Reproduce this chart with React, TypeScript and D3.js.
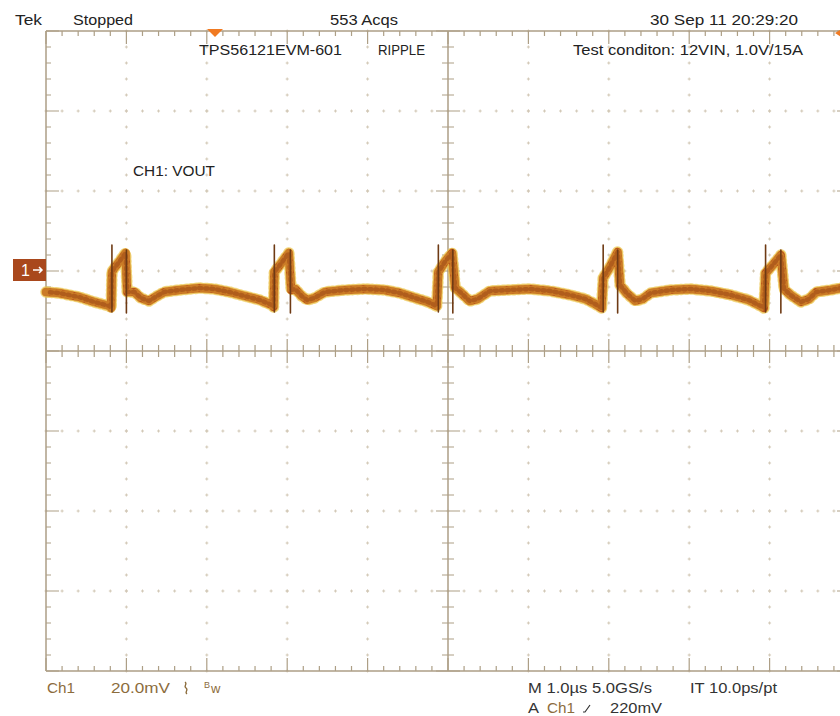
import React from "react";
import * as d3 from "d3";

// ---- Data (time in µs relative to screen centre, voltage in mV relative to CH1 marker) ----
const traceTime = [
  -5.0, -4.84, -4.59, -4.4, -4.21, -4.19, -4.18, -4.15, -4.09, -4.01,
  -3.99, -3.9, -3.82, -3.72, -3.62, -3.53, -3.34, -3.09, -2.91, -2.72,
  -2.53, -2.34, -2.19, -2.17, -2.16, -2.09, -1.98, -1.95, -1.9, -1.82,
  -1.75, -1.66, -1.53, -1.28, -1.03, -0.79, -0.6, -0.41, -0.25, -0.14,
  -0.12, -0.04, 0.05, 0.09, 0.15, 0.27, 0.37, 0.52, 0.77, 1.02,
  1.27, 1.52, 1.71, 1.83, 1.91, 1.93, 2.02, 2.11, 2.14, 2.22,
  2.33, 2.42, 2.52, 2.77, 3.02, 3.27, 3.52, 3.74, 3.89, 3.93,
  3.95, 4.04, 4.14, 4.18, 4.26, 4.39, 4.49, 4.58, 4.76, 4.89, 4.99,
];
const traceMv = [
  -5.25, -5.5, -6.5, -7.75, -8.75, -9.25, -0.25, 0.75, 2.25, 4.5,
  -5.25, -5.25, -6.75, -7.5, -6.25, -5.25, -4.75, -4.25, -4.5, -5.25,
  -6.25, -7.25, -8.5, -9.0, -0.25, 1.5, 4.5, -4.75, -4.5, -6.25,
  -7.25, -6.75, -5.25, -4.75, -4.5, -4.75, -5.5, -6.75, -7.75, -8.75,
  -0.25, 2.25, 4.5, -4.25, -5.25, -7.5, -7.0, -5.0, -4.75, -4.5,
  -5.0, -6.0, -7.0, -8.25, -9.25, -1.75, 1.25, 4.75, -3.5, -5.5,
  -7.5, -7.0, -5.5, -4.75, -4.5, -5.0, -6.0, -7.25, -8.75, -9.25,
  -0.5, 1.5, 4.0, -4.5, -6.0, -7.75, -7.0, -5.25, -4.75, -4.25, -4.25,
];
const riseTimes = [-4.18, -2.16, -0.12, 1.93, 3.95];
const riseTopMv = 6.5;
const riseBottomMv = -10.25;
const fallTimes = [-4.0, -1.96, 0.06, 2.11, 4.14];
const fallTopMv = 5.25;
const fallBottomMv = -10.5;

const timeDomain = [-5, 5]; // 1.0 µs/div, 10 div
const mvDomain = [-100, 60]; // 20 mV/div, 8 div, CH1 marker at 0
const majorTimes = d3.range(-5, 5.001, 1);
const majorMv = d3.range(-100, 60.001, 20);
const minorTimes = d3.range(-5, 5.001, 0.2);
const minorMv = d3.range(-100, 60.001, 4);

const W = 840;
const H = 716;
const GRID = "#ad9f86";
const DOT = "#d2c8b6";
const BROWN_TXT = "#8c6c3c";
const DARK_TXT = "#222";
const FONT = "'Liberation Sans', Arial, Helvetica, sans-serif";

export default function App() {
  const x = d3.scaleLinear().domain(timeDomain).range([46, 850]);
  const y = d3.scaleLinear().domain(mvDomain).range([671, 31]);
  const x0 = x(timeDomain[0]);
  const x1 = x(timeDomain[1]);
  const yTop = y(mvDomain[1]);
  const yBot = y(mvDomain[0]);
  const xc = x(0);
  const yc = y(-20);

  const pts: [number, number][] = traceTime.map((t, i) => [t, traceMv[i]]);
  const line = d3
    .line<[number, number]>()
    .x((d) => x(d[0]))
    .y((d) => y(d[1]))
    .curve(d3.curveLinear);
  const path = line(pts) || "";

  const isMajorT = (t: number) => Math.abs(t - Math.round(t)) < 1e-6;
  const isMajorV = (v: number) => Math.abs(v / 20 - Math.round(v / 20)) < 1e-6;

  const dotPaths: string[] = [];
  majorTimes.forEach((t, i) => {
    if (i === 0 || i === majorTimes.length - 1 || Math.abs(t) < 1e-6) return;
    minorMv.forEach((v) => {
      const px = x(t);
      const py = y(v);
      dotPaths.push(`M${px - 1.5},${py}h3M${px},${py - 1.5}v3`);
    });
  });
  majorMv.forEach((v, i) => {
    if (i === 0 || i === majorMv.length - 1 || Math.abs(v + 20) < 1e-6) return;
    minorTimes.forEach((t) => {
      const px = x(t);
      const py = y(v);
      dotPaths.push(`M${px - 1.5},${py}h3M${px},${py - 1.5}v3`);
    });
  });

  const ticks: string[] = [];
  minorTimes.forEach((t) => {
    const px = x(t);
    const len = isMajorT(t) ? 13 : 5;
    ticks.push(`M${px},${yTop}v${len}`);
    ticks.push(`M${px},${yBot}v${-len}`);
    const cl = isMajorT(t) ? 12 : 6;
    ticks.push(`M${px},${yc - cl}v${cl * 2}`);
  });
  minorMv.forEach((v) => {
    const py = y(v);
    const len = isMajorV(v) ? 13 : 5;
    ticks.push(`M${x0},${py}h${len}`);
    ticks.push(`M${x1},${py}h${-len}`);
    const cl = isMajorV(v) ? 12 : 6;
    ticks.push(`M${xc - cl},${py}h${cl * 2}`);
  });

  const txt = (
    s: string,
    px: number,
    py: number,
    w: number,
    fill: string,
    size = 15
  ) => (
    <text
      x={px}
      y={py}
      fill={fill}
      fontSize={size}
      fontFamily={FONT}
      textLength={w}
      lengthAdjust="spacingAndGlyphs"
    >
      {s}
    </text>
  );

  return (
    <svg
      width={W}
      height={H}
      viewBox={`0 0 ${W} ${H}`}
      style={{ position: "absolute", left: 0, top: 0, background: "#fff" }}
    >
      <rect x={0} y={0} width={W} height={H} fill="#ffffff" />
      {/* graticule */}
      <path d={dotPaths.join("")} stroke={DOT} strokeWidth={1} fill="none" />
      <path d={ticks.join("")} stroke={GRID} strokeWidth={1.2} fill="none" />
      <path
        d={`M${x0},${yTop}H${x1}M${x0},${yBot}H${x1}M${x0},${yTop}V${yBot}M${x1},${yTop}V${yBot}M${x0},${yc}H${x1}M${xc},${yTop}V${yBot}`}
        stroke={GRID}
        strokeWidth={1.5}
        fill="none"
      />

      {/* trace */}
      <g fill="none" strokeLinejoin="round" strokeLinecap="round">
        <path d={path} stroke="#ecc650" strokeWidth={11.5} strokeDasharray="2 3 1 4" opacity={0.7} />
        <path d={path} stroke="#e2ad3a" strokeWidth={9.5} opacity={0.85} />
        <path d={path} stroke="#b9521b" strokeWidth={8} />
        <path d={path} stroke="#e3ac36" strokeWidth={8} strokeDasharray="1 6 1 4" opacity={0.45} />
        <path d={path} stroke="#86320f" strokeWidth={4.5} strokeDasharray="2 4" strokeDashoffset={2} opacity={0.4} />
        {riseTimes.map((t, i) => (
          <line key={`r${i}`} x1={x(t)} x2={x(t)} y1={y(riseTopMv)} y2={y(riseBottomMv)} stroke="#6e3a14" strokeWidth={1.6} />
        ))}
        {fallTimes.map((t, i) => (
          <line key={`f${i}`} x1={x(t)} x2={x(t)} y1={y(fallTopMv)} y2={y(fallBottomMv)} stroke="#6e3a14" strokeWidth={1.6} />
        ))}
      </g>

      {/* markers */}
      <path d="M207,29L223,29L215,37Z" fill="#f07a22" />
      <path d="M835,33L843,28L843,38Z" fill="#f07a22" />
      <rect x={13} y={259} width={33} height={22} fill="#a9481c" />
      <text x={21} y={276} fill="#fff" fontSize={16} fontFamily={FONT}>1</text>
      <path d="M33,270h9M39,267l3,3l-3,3" stroke="#fff" strokeWidth={1.5} fill="none" />

      {/* header */}
      {txt("Tek", 15, 25, 27, DARK_TXT)}
      {txt("Stopped", 73, 25, 60, DARK_TXT)}
      {txt("553 Acqs", 330, 25, 68, DARK_TXT)}
      {txt("30 Sep 11 20:29:20", 650, 25, 148, DARK_TXT)}
      {txt("TPS56121EVM-601", 199, 55, 143, DARK_TXT)}
      {txt("RIPPLE", 378, 55, 47, DARK_TXT)}
      {txt("Test conditon: 12VIN, 1.0V/15A", 573, 55, 230, DARK_TXT)}
      {txt("CH1: VOUT", 133, 176, 82, DARK_TXT)}

      {/* footer */}
      {txt("Ch1", 47, 693, 28, BROWN_TXT)}
      {txt("20.0mV", 111, 693, 59, BROWN_TXT)}
      <path d="M185,682c3,2,-2,4,1,6c3,2,-2,4,1,6" stroke={BROWN_TXT} strokeWidth={1.3} fill="none" />
      <text x={204} y={688} fill={BROWN_TXT} fontSize={9} fontFamily={FONT}>B</text>
      <text x={211} y={693} fill={BROWN_TXT} fontSize={13} fontFamily={FONT}>w</text>
      {txt("M 1.0µs 5.0GS/s", 528, 693, 124, "#333")}
      {txt("IT 10.0ps/pt", 690, 693, 87, "#333")}
      {txt("A", 528, 713, 11, "#333")}
      {txt("Ch1", 547, 713, 28, BROWN_TXT)}
      <path d="M583,712h2l5,-7" stroke="#333" strokeWidth={1.2} fill="none" />
      {txt("220mV", 610, 713, 52, "#333")}
    </svg>
  );
}
